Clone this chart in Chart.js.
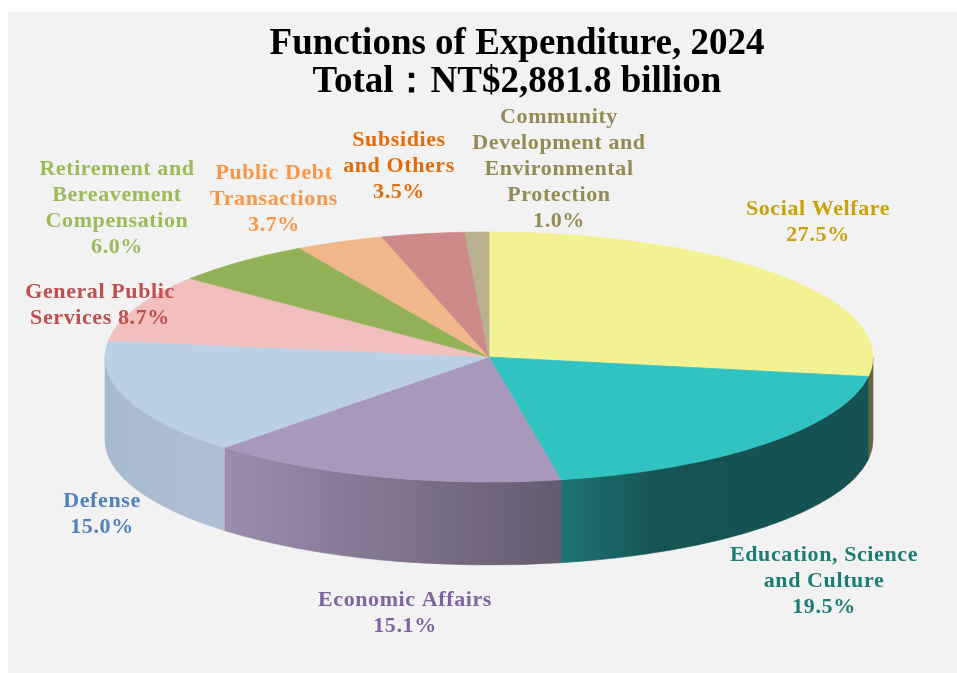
<!DOCTYPE html>
<html>
<head>
<meta charset="utf-8">
<title>Functions of Expenditure, 2024</title>
<script src="https://cdn.jsdelivr.net/npm/chart.js@4.4.1/dist/chart.umd.min.js"></script>
<style>
  html, body { margin: 0; padding: 0; background: #fff; }
  #wrap { width: 957px; height: 673px; }
</style>
</head>
<body>
<div id="wrap"><canvas id="chart" width="957" height="673"></canvas></div>
<script>
// -------------------------
// Data
// -------------------------
const categories = [
  ["Social Welfare"],
  ["Education, Science", "and Culture"],
  ["Economic Affairs"],
  ["Defense"],
  ["General Public", "Services"],
  ["Retirement and", "Bereavement", "Compensation"],
  ["Public Debt", "Transactions"],
  ["Subsidies", "and Others"],
  ["Community", "Development and", "Environmental", "Protection"]
];
const shares = [27.5, 19.5, 15.1, 15.0, 8.7, 6.0, 3.7, 3.5, 1.0];
const titleLines = ["Functions of Expenditure, 2024", "Total：NT$2,881.8 billion"];

// -------------------------
// Look
// -------------------------
const sliceColors = ["#f3f292", "#31c3c2", "#a898bb", "#bbd0e4", "#f2bfbf", "#93b156", "#efb78a", "#cd8a88", "#b7b18f"];
const labelColors = ["#c9a20a", "#1b7d76", "#8064a2", "#4f81bd", "#c0504d", "#9bbb59", "#f79646", "#e36c0a", "#948a54"];

// label block: centre x, baseline of first line; inline = percent shares the last line
const labelPos = [
  { x: 818, y: 215 },
  { x: 824, y: 561 },
  { x: 405, y: 606 },
  { x: 102, y: 507 },
  { x: 100, y: 298, inline: true },
  { x: 117, y: 175 },
  { x: 274, y: 179 },
  { x: 399, y: 146 },
  { x: 559, y: 123 }
];
const LINE_H = 26;
const LABEL_FONT = "bold 22px 'Liberation Serif', serif";
const TITLE_FONT = "bold 37px 'Liberation Serif', serif";

// pie geometry (top face ellipse + wall depth)
const CX = 489, CY = 357, RX = 384, RY = 125, DEPTH = 83;
const CANVAS_W = 957, CANVAS_H = 673;

// side wall brightness across the pie width (0 = left edge, 1 = right edge)
const wallShade = [[0, 0.90], [0.15, 0.93], [0.59, 0.60], [0.72, 0.43], [1, 0.42]];

function shadeHex(hex, f) {
  const h = hex.replace("#", "");
  const r = Math.round(parseInt(h.substr(0, 2), 16) * f);
  const g = Math.round(parseInt(h.substr(2, 2), 16) * f);
  const b = Math.round(parseInt(h.substr(4, 2), 16) * f);
  return `rgb(${r},${g},${b})`;
}

// -------------------------
// Plugin: background, walls, squashed top, labels, title
// -------------------------
const pie3d = {
  id: "pie3d",
  beforeDraw(chart) {
    const ctx = chart.ctx;
    ctx.save();
    ctx.fillStyle = "#ffffff";
    ctx.fillRect(0, 0, CANVAS_W, CANVAS_H);
    ctx.fillStyle = "#f2f2f2";
    ctx.fillRect(8, 12, CANVAS_W - 8, CANVAS_H - 12);
    ctx.restore();
  },
  beforeDatasetsDraw(chart) {
    const ctx = chart.ctx;
    const arcs = chart.getDatasetMeta(0).data;
    const k = RY / RX;

    // front walls: only the part of each slice with angle in [0, PI] is visible
    ctx.save();
    arcs.forEach((arc, i) => {
      const { startAngle, endAngle } = arc.getProps(["startAngle", "endAngle"], true);
      [0, 2 * Math.PI].forEach(base => {
        const a0 = Math.max(startAngle, base);
        const a1 = Math.min(endAngle, base + Math.PI);
        if (a1 <= a0) return;
        const grad = ctx.createLinearGradient(CX - RX, 0, CX + RX, 0);
        wallShade.forEach(([t, f]) => grad.addColorStop(t, shadeHex(sliceColors[i], f)));
        ctx.beginPath();
        ctx.ellipse(CX, CY, RX, RY, 0, a0, a1);
        ctx.lineTo(CX + RX * Math.cos(a1), CY + DEPTH + RY * Math.sin(a1));
        ctx.ellipse(CX, CY + DEPTH, RX, RY, 0, a1, a0, true);
        ctx.closePath();
        ctx.fillStyle = grad;
        ctx.fill();
        ctx.strokeStyle = grad;
        ctx.lineWidth = 0.6;
        ctx.stroke();
      });
    });
    ctx.restore();

    // top face: circle from Chart.js, squashed vertically
    ctx.save();
    ctx.translate(CX, CY);
    ctx.scale(1, k);
    ctx.translate(-CX, -CY);
  },
  afterDatasetsDraw(chart) {
    const ctx = chart.ctx;
    ctx.restore();

    // slice labels
    ctx.save();
    ctx.font = LABEL_FONT;
    ctx.letterSpacing = "0.6px";
    ctx.textAlign = "center";
    ctx.textBaseline = "alphabetic";
    categories.forEach((lines, i) => {
      const pos = labelPos[i];
      const pct = shares[i].toFixed(1) + "%";
      const out = lines.slice();
      if (pos.inline) out[out.length - 1] += " " + pct;
      else out.push(pct);
      ctx.fillStyle = labelColors[i];
      out.forEach((txt, j) => ctx.fillText(txt, pos.x, pos.y + j * LINE_H));
    });
    ctx.restore();

    // title
    ctx.save();
    ctx.font = TITLE_FONT;
    ctx.fillStyle = "#000000";
    ctx.textAlign = "center";
    ctx.textBaseline = "alphabetic";
    ctx.fillText(titleLines[0], 517, 54);
    ctx.fillText(titleLines[1], 517, 92);
    ctx.restore();
  }
};

// -------------------------
// Chart
// -------------------------
new Chart(document.getElementById("chart"), {
  type: "pie",
  data: {
    labels: categories,
    datasets: [{
      data: shares,
      backgroundColor: sliceColors,
      borderColor: sliceColors,
      borderWidth: 1,
      radius: RX
    }]
  },
  options: {
    responsive: false,
    animation: false,
    rotation: 0,
    layout: {
      // centre of chart area lands on (CX, CY)
      padding: { left: 2 * CX - CANVAS_W, right: 0, top: 2 * CY - CANVAS_H, bottom: 0 }
    },
    plugins: {
      legend: { display: false },
      title: { display: false },
      tooltip: { enabled: false }
    }
  },
  plugins: [pie3d]
});
</script>
</body>
</html>
